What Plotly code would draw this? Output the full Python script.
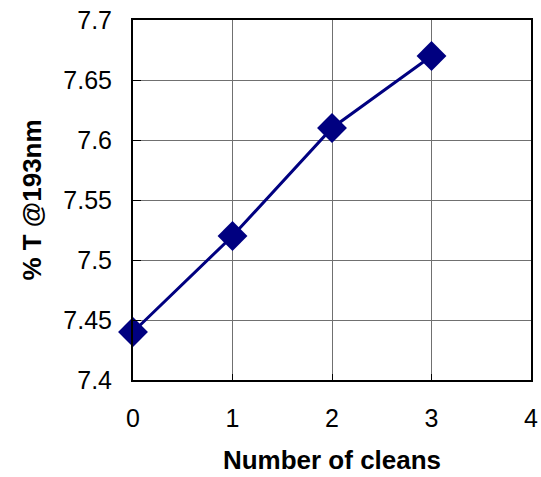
import plotly.graph_objects as go

# Transmission at 193 nm versus number of cleaning cycles
cleans = [0, 1, 2, 3]
transmission = [7.44, 7.52, 7.61, 7.67]
x_ticks = [0, 1, 2, 3, 4]
y_ticks = [7.4, 7.45, 7.5, 7.55, 7.6, 7.65, 7.7]
y_tick_text = ["7.4", "7.45", "7.5", "7.55", "7.6", "7.65", "7.7"]

navy = "#000080"

fig = go.Figure(
    go.Scatter(
        x=cleans,
        y=transmission,
        mode="lines+markers",
        line=dict(color=navy, width=3),
        marker=dict(symbol="diamond", size=23, color=navy),
        cliponaxis=False,
    )
)

axis_font = dict(family="Liberation Sans, Arial, sans-serif", size=25, color="black")
title_font = dict(family="Liberation Sans, Arial, sans-serif", size=26, color="black")

fig.update_layout(
    width=541,
    height=477,
    margin=dict(l=133, r=10, t=20, b=97),
    paper_bgcolor="white",
    plot_bgcolor="white",
    showlegend=False,
    xaxis=dict(
        range=[0, 4],
        tickvals=x_ticks,
        ticktext=[str(v) for v in x_ticks],
        tickfont=axis_font,
        ticks="inside",
        ticklen=6,
        tickcolor="black",
        ticklabelstandoff=15,
        showgrid=True,
        gridcolor="#707070",
        gridwidth=1,
        showline=True,
        linecolor="black",
        linewidth=2,
        mirror=True,
        zeroline=False,
        automargin=False,
        title=dict(text="<b>Number of cleans</b>", font=title_font, standoff=20),
    ),
    yaxis=dict(
        range=[7.4, 7.7],
        tickvals=y_ticks,
        ticktext=y_tick_text,
        tickfont=axis_font,
        ticks="inside",
        ticklen=8,
        tickcolor="black",
        ticklabelstandoff=14,
        showgrid=True,
        gridcolor="#707070",
        gridwidth=1,
        showline=True,
        linecolor="black",
        linewidth=2,
        mirror=True,
        zeroline=False,
        automargin=False,
        title=dict(text="<b>% T @193nm</b>", font=title_font, standoff=14),
    ),
)

fig.write_html("out.html")
